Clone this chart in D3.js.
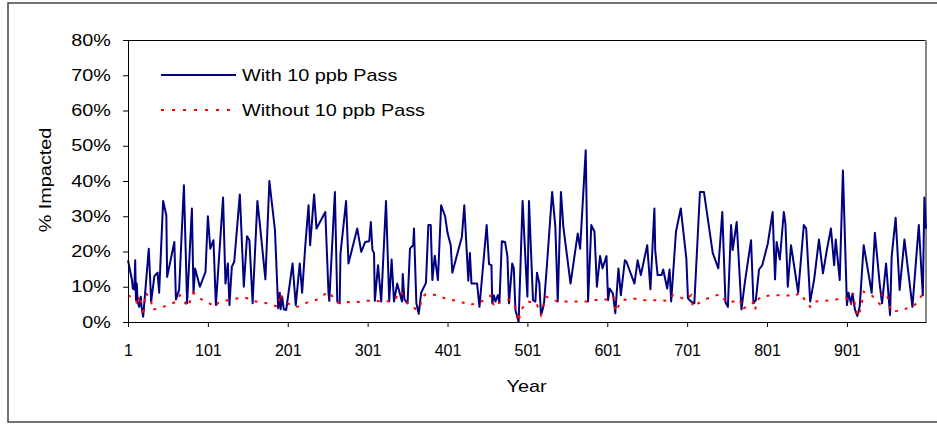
<!DOCTYPE html>
<meta charset="utf-8">
<script src="https://d3js.org/d3.v7.min.js"></script>
<html>
<head>
<title>% Impacted by Year</title>
<style>
  body { margin: 0; background: #fff; }
  text { font-family: "Liberation Sans", Arial, sans-serif; fill: #000; }
</style>
</head>
<body>
<div id="my_dataviz"></div>
<script>

// ---- data ----
var withYears = [1,6,7,9,10,11,12,13,15,17,18,20,27,30,34,38,40,45,49,50,59,61,65,71,75,81,83,85,91,98,101,104,108,111,120,123,
  126,128,131,134,141,146,150,153,157,163,166,173,178,185,189,191,192,194,196,199,207,211,216,219,223,227,229,234,237,248,
  252,253,260,263,266,267,274,277,288,293,298,303,305,307,309,310,314,318,324,328,331,334,338,341,344,345,347,351,354,358,359,362,365,368,374,
  377,380,382,385,389,393,398,401,405,407,419,422,427,429,431,438,441,450,453,456,457,459,461,464,466,469,473,476,478,482,484,486,490,495,499,
  501,503,508,511,513,516,518,520,522,525,532,536,539,543,546,555,564,567,574,577,581,585,588,592,595,600,602,604,608,611,615,618,623,
  625,635,639,643,651,655,660,661,664,669,671,676,679,681,687,693,700,702,706,710,717,722,733,740,745,749,
  752,756,758,763,769,773,781,784,787,791,795,802,808,811,813,817,822,824,827,831,840,847,850,855,860,866,871,876,
  881,885,887,892,896,901,903,906,908,911,914,917,922,932,936,942,945,950,955,957,962,967,973,983,991,996,998,1000];
var withPass = [17.5,11.9,9.5,9.2,17.5,6.2,10.9,5.8,4.3,7.2,4.3,1.5,20.8,5.8,13,14,8.3,34.3,30.3,12.8,22.7,6.4,9.1,38.8,5.3,32.2,8.1,15.2,10,14.2,30,20.8,23.2,4.8,35.3,10.9,
  16.6,4.8,15.7,17.1,36.2,10,24.3,23.2,5.3,34.3,27.9,12.1,40,26,3.9,8.3,3.6,7.2,3.6,3.4,16.6,4.8,16.6,8.3,21.8,33.1,21.8,36.2,26.5,31.2,
  8.3,6,36.9,5.8,5.3,19.4,34.3,16.6,26.5,19.9,22.7,22.9,28.4,20.4,19.6,6,16.1,5.8,34.3,5.8,17.7,5.8,10.9,8.3,5.8,13.6,6.4,5.3,20.8,21.8,26.5,5.3,2.3,8.3,11.1,
  27.5,27.5,11.9,18.8,11.9,33.1,30,25.3,21.8,14,24.2,33.1,11.7,19.6,10.9,10.9,4.3,27.5,16.4,16.1,5.3,7.6,5.8,7.6,5.5,22.9,22.7,18.7,5.3,16.6,15.2,3.4,0,34.3,15.7,
  7.2,34.3,6.2,5.8,14,10.9,2,3.4,5.8,14.7,36.9,27,5.8,36.9,27,10.9,25.1,20.8,48.7,5.8,27.5,25.6,10,18.7,15.2,18.7,6.2,9.5,8.1,2.5,15.2,7.6,17.5,
  17.1,10.9,17.5,13.3,21.8,9.3,32.2,20.4,13.3,13.3,14.9,9.5,14.9,5.8,25.6,32.2,18,6.7,5.8,5.3,36.9,36.9,19.6,15.2,31.2,5.5,
  4.3,27.5,20.4,28.4,3.6,10.9,23.2,5.3,6.2,14.9,16.1,22.3,31.2,12.1,22.7,17.7,31.2,27.9,10,21.8,8.3,27.5,26.5,5.8,12.1,23.4,13.8,20.6,
  26.5,16.1,23.4,11.9,43,4.8,8.3,5.3,8.1,3.6,1.7,4.3,21.8,8.3,25.3,10.9,5.3,16.6,2,18.5,29.6,9.1,23.4,4.3,27.5,7.6,35.3,26.5];

var withoutYears = [1,10,13,16,20,23,30,31,45,62,66,76,83,93,98,110,114,
  130,146,158,161,175,189,192,194,198,208,213,225,238,
  252,263,267,284,298,310,319,330,336,339,344,347,351,363,367,370,
  374,388,401,415,428,441,456,459,464,469,478,487,490,493,
  501,512,518,522,524,539,554,568,577,591,602,609,611,614,620,
  633,648,662,677,683,700,706,708,723,733,742,
  750,754,767,770,784,786,789,794,807,821,836,842,850,855,859,873,
  887,901,903,906,909,912,915,919,922,932,942,945,950,954,956,970,984,988,995,1000];
var withoutPass = [7.5,6.7,4.8,7.6,1.7,8.3,6.2,3.4,4.3,5.8,7.6,4.3,8.3,6.4,6,4.3,5.5,
  6.4,7,6.2,5.8,5.3,4.3,8.1,6.7,5.8,4.3,4.3,5.5,6.4,
  8.6,5.5,5.8,5.5,6,6,5.8,6,6.4,8.3,8.3,6.2,5.3,3.4,4.8,7.2,
  7.9,7.6,6.4,6,4.8,5.5,7.6,4.3,5.3,5.8,6.4,3.9,0.1,3.4,
  5.8,5.5,2,5.3,7.2,5.8,5.8,5.8,5.8,6.4,6.4,7.2,2.9,4.2,6.2,
  6.7,6.2,6.2,6,7.6,6.4,7.6,4.3,6.4,7.2,7.9,
  5.8,5.5,6.4,3.6,5.5,3.4,6.2,7.2,7.6,7.6,7.4,8.3,5.8,4.3,5.8,6,
  6.4,6.7,5.3,4.8,8.1,3.4,1.5,4.3,8.6,7.6,5.1,8.1,8.1,5.8,2.9,3.4,4.5,5.3,7.6,8];

var xTicks = [1,101,201,301,401,501,601,701,801,901];
var yTicks = [0,10,20,30,40,50,60,70,80];
var seriesNames = ["With 10 ppb Pass", "Without 10 ppb Pass"];

// the original's text is drawn wider than Arial, stretch it along the baseline
var stretch = 1.24;

// ---- layout ----
var W = 937, H = 425;
var margin = {top: 40, right: 11, bottom: 103, left: 128},
    width = W - margin.left - margin.right,
    height = H - margin.top - margin.bottom;

var root = d3.select("#my_dataviz")
  .append("svg")
    .attr("width", W)
    .attr("height", H);

// outer chart frame
root.append("rect")
  .attr("x", 8).attr("y", 3)
  .attr("width", 940).attr("height", 419)
  .attr("fill", "none")
  .attr("stroke", "#444")
  .attr("stroke-width", 1.5);

var svg = root.append("g")
  .attr("transform", "translate(" + margin.left + "," + margin.top + ")");

var x = d3.scaleLinear().domain([1, 1000]).range([0, width]);
var y = d3.scaleLinear().domain([0, 80]).range([height, 0]);

// plot area border: top black, right grey
svg.append("line")
  .attr("x1", 0).attr("x2", width).attr("y1", 0.5).attr("y2", 0.5)
  .attr("stroke", "#000").attr("stroke-width", 1);
svg.append("line")
  .attr("x1", width).attr("x2", width).attr("y1", 0).attr("y2", height)
  .attr("stroke", "#888").attr("stroke-width", 2);

// lines
var lineWith = d3.line()
  .x(function(d, i) { return x(withYears[i]); })
  .y(function(d) { return y(d); });
var lineWithout = d3.line()
  .x(function(d, i) { return x(withoutYears[i]); })
  .y(function(d) { return y(d); });

svg.append("path")
  .datum(withPass)
  .attr("fill", "none")
  .attr("stroke", "#000080")
  .attr("stroke-width", 2)
  .attr("stroke-linejoin", "round")
  .attr("d", lineWith);

svg.append("path")
  .datum(withoutPass)
  .attr("fill", "none")
  .attr("stroke", "#ff0000")
  .attr("stroke-width", 2)
  .attr("stroke-dasharray", "3,7")
  .attr("d", lineWithout);

// axes
var xAxis = svg.append("g")
  .attr("transform", "translate(0," + height + ")")
  .call(d3.axisBottom(x).tickValues(xTicks).tickSize(5).tickSizeOuter(0).tickPadding(18));
xAxis.selectAll("text").style("font-size", "16px");
xAxis.selectAll("line, path").attr("stroke", "#000");

var yAxis = svg.append("g")
  .call(d3.axisLeft(y).tickValues(yTicks).tickSize(5).tickSizeOuter(0).tickPadding(12)
    .tickFormat(function(d) { return d + "%"; }));
yAxis.selectAll("text")
  .style("font-size", "16px")
  .attr("x", function() { return +d3.select(this).attr("x") / stretch; })
  .attr("transform", "scale(" + stretch + ",1)");
yAxis.selectAll("line, path").attr("stroke", "#000");

// axis titles
svg.append("text")
  .attr("transform", "translate(" + x(500) + "," + (height + 70) + ")scale(" + stretch + ",1)")
  .attr("text-anchor", "middle")
  .style("font-size", "16px")
  .text("Year");

svg.append("text")
  .attr("transform", "translate(" + (-77) + "," + 140 + ")rotate(-90)scale(" + stretch + ",1)")
  .attr("text-anchor", "middle")
  .style("font-size", "16px")
  .text("% Impacted");

// legend
var legend = svg.append("g").attr("transform", "translate(33,35)");
legend.append("line")
  .attr("x1", 0).attr("x2", 75).attr("y1", 0).attr("y2", 0)
  .attr("stroke", "#000080").attr("stroke-width", 2);
legend.append("line")
  .attr("x1", 0).attr("x2", 75).attr("y1", 35).attr("y2", 35)
  .attr("stroke", "#ff0000").attr("stroke-width", 2)
  .attr("stroke-dasharray", "3,8");
legend.selectAll("text.lg")
  .data(seriesNames)
  .enter()
  .append("text")
    .attr("class", "lg")
    .attr("transform", function(d, i) { return "translate(81," + (i * 35 + 6) + ")scale(" + stretch + ",1)"; })
    .style("font-size", "16px")
    .text(function(d) { return d; });

</script>
</body>
</html>
